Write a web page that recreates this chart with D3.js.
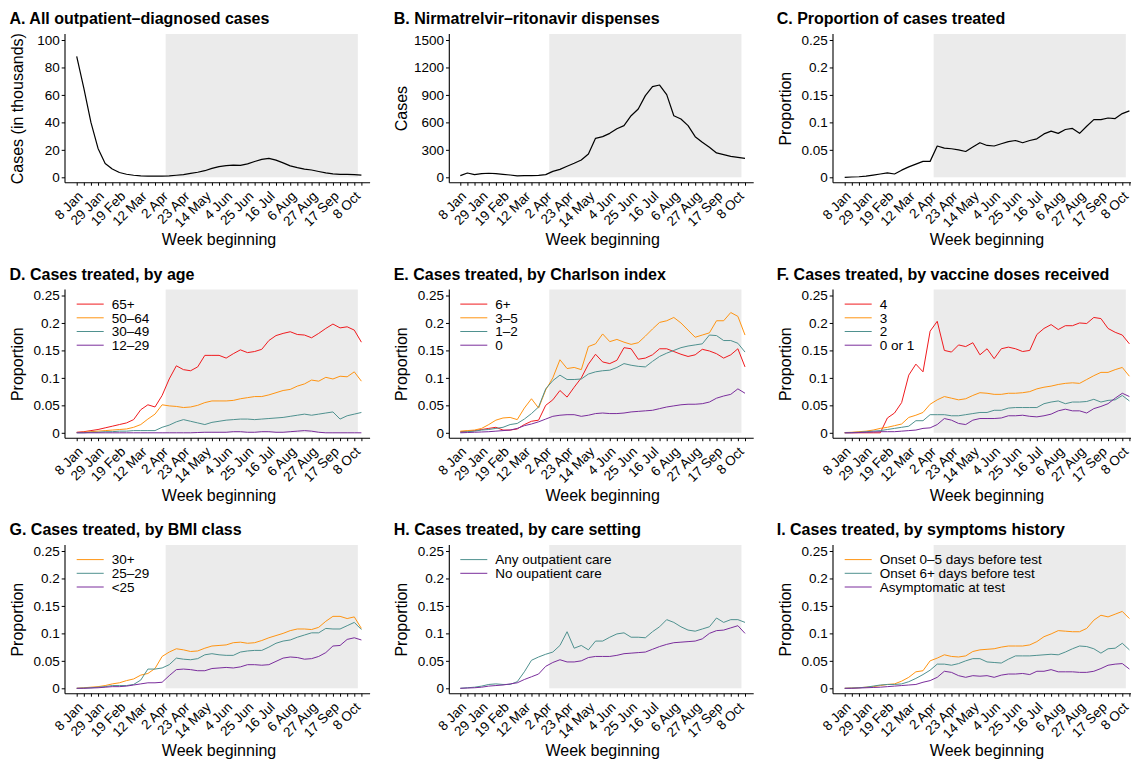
<!DOCTYPE html>
<html>
<head>
<meta charset="utf-8">
<script src="https://d3js.org/d3.v7.min.js"></script>
<style>
  body { margin: 0; background: #fff; }
  svg { font-family: "Liberation Sans", Arial, Helvetica, sans-serif; }
</style>
</head>
<body>
<svg width="1131" height="759"></svg>
<script>
// weekly series, week beginning 8 Jan 2022 .. 15 Oct 2022 (41 weeks)
let tickLabels = ["8 Jan", "29 Jan", "19 Feb", "12 Mar", "2 Apr", "23 Apr", "14 May",
    "4 Jun", "25 Jun", "16 Jul", "6 Aug", "27 Aug", "17 Sep", "8 Oct"];
// shaded period, in week index units
let shadeFrom = 12.5, shadeTo = 39.5;

let casesAll = [88, 65, 40, 21, 10, 6, 3.5, 2.2, 1.5, 1.1, 0.9, 0.8, 0.9, 1.1, 1.5, 2, 2.8, 3.7, 4.8, 6.5,
    7.8, 8.5, 8.8, 8.7, 9.8, 11.5, 13, 13.8, 12.5, 10.5, 8.3, 7, 6, 5.3, 4.2, 3.2, 2.5, 2.2, 2.1, 2, 1.6];
let dispenses = [18, 47, 29, 40, 44, 40, 33, 25, 15, 18, 18, 22, 29, 65, 87, 120, 153, 189, 255, 426,
    444, 480, 531, 564, 673, 746, 892, 990, 1008, 903, 673, 637, 564, 444, 382, 328, 266, 248, 229, 218, 207];
let propTreated = [0, .0005, .001, .002, .004, .006, .008, .006, .013, .019, .024, .029, .029, .057, .053, .052, .05, .047, .055, .063,
    .058, .057, .061, .065, .067, .063, .067, .07, .079, .084, .08, .087, .089, .08, .093, .105, .105, .108, .107, .116, .121];

// D. by age
let age65 = [.001, .002, .004, .006, .009, .012, .015, .018, .024, .042, .051, .047, .068, .098, .122, .115, .113, .12, .141, .141,
    .141, .136, .144, .151, .146, .148, .152, .168, .177, .181, .184, .179, .178, .173, .181, .19, .198, .191, .193, .187, .165];
let age50 = [.0005, .001, .002, .003, .004, .005, .006, .007, .01, .015, .025, .034, .051, .049, .048, .046, .047, .05, .055, .058,
    .058, .058, .059, .062, .064, .066, .066, .069, .073, .077, .079, .085, .089, .096, .094, .101, .098, .103, .102, .111, .094];
let age30 = [0, 0, .001, .001, .002, .002, .003, .003, .004, .004, .004, .004, .01, .014, .02, .024, .021, .018, .015, .019,
    .021, .023, .024, .025, .025, .024, .025, .026, .027, .028, .03, .032, .034, .032, .034, .036, .038, .025, .031, .034, .037];
let age12 = [0, 0, 0, 0, 0, 0, 0, 0, 0, 0, 0, 0, 0, 0, 0, 0, 0, .0005, .001, .001,
    .001, .001, .002, .002, .001, .001, .002, .002, .001, .001, .002, .003, .004, .003, .001, 0, 0, 0, 0, 0, 0];

// E. by Charlson index
let cci6 = [.002, .003, .004, .006, .008, .01, .005, .005, .007, .015, .021, .023, .05, .06, .077, .065, .083, .1, .125, .143,
    .129, .126, .132, .155, .153, .134, .136, .142, .153, .153, .148, .143, .139, .142, .152, .149, .144, .136, .142, .153, .12];
let cci3 = [.003, .004, .005, .008, .015, .023, .027, .028, .024, .045, .062, .045, .078, .1, .133, .117, .119, .115, .157, .162,
    .18, .166, .17, .165, .161, .164, .176, .189, .201, .204, .21, .2, .187, .174, .178, .182, .204, .204, .219, .212, .178];
let cci1 = [.001, .002, .003, .005, .006, .008, .01, .015, .017, .025, .035, .047, .08, .095, .105, .097, .097, .098, .107, .111,
    .113, .114, .119, .126, .123, .121, .12, .13, .139, .145, .15, .155, .158, .16, .162, .178, .177, .168, .168, .163, .147];
let cci0 = [0, .0005, .001, .0015, .002, .003, .004, .005, .008, .013, .016, .02, .025, .03, .032, .033, .033, .03, .032, .035,
    .036, .035, .035, .036, .038, .039, .04, .041, .044, .047, .049, .051, .052, .052, .053, .056, .063, .067, .07, .08, .072];

// F. by vaccine doses
let dose4 = [0, 0, 0, 0, 0, 0, .027, .036, .055, .105, .125, .111, .185, .203, .15, .147, .16, .157, .164, .142,
    .153, .135, .153, .156, .153, .148, .15, .179, .19, .197, .188, .195, .195, .2, .199, .21, .208, .19, .183, .178, .162];
let dose3 = [.0005, .001, .002, .003, .005, .008, .01, .013, .016, .028, .032, .037, .052, .06, .066, .063, .06, .062, .068, .073,
    .072, .07, .07, .072, .072, .073, .075, .08, .083, .085, .088, .09, .091, .09, .097, .104, .11, .11, .115, .119, .103];
let dose2 = [0, .0005, .001, .002, .003, .004, .006, .008, .01, .012, .022, .022, .033, .033, .033, .031, .031, .033, .035, .037,
    .037, .041, .041, .045, .046, .046, .046, .046, .053, .056, .058, .053, .056, .056, .057, .061, .056, .059, .06, .068, .058];
let dose01 = [0, 0, .0005, .001, .0015, .002, .002, .002, .003, .004, .005, .008, .009, .015, .026, .023, .017, .015, .023, .026,
    .026, .026, .027, .031, .031, .032, .03, .029, .031, .034, .04, .043, .04, .04, .036, .044, .048, .053, .063, .072, .066];

// G. by BMI class
let bmi30 = [0, .001, .002, .003, .005, .008, .01, .014, .017, .024, .027, .036, .058, .066, .072, .07, .067, .068, .073, .077,
    .078, .079, .083, .084, .082, .083, .087, .092, .096, .1, .105, .108, .108, .107, .111, .122, .131, .131, .127, .13, .109];
let bmi25 = [0, .0005, .001, .002, .003, .005, .005, .005, .007, .015, .035, .035, .037, .043, .055, .053, .052, .054, .061, .063,
    .061, .06, .06, .066, .068, .069, .069, .075, .082, .086, .088, .093, .097, .101, .101, .109, .108, .108, .114, .12, .107];
let bmiLow = [0, 0, .0005, .001, .002, .003, .003, .004, .006, .008, .01, .01, .011, .023, .034, .035, .034, .032, .032, .036,
    .037, .038, .037, .039, .043, .043, .042, .043, .049, .055, .057, .056, .053, .054, .058, .065, .077, .078, .089, .092, .088];

// H. by care setting
let careAny = [0, .001, .002, .004, .007, .008, .007, .007, .012, .03, .051, .057, .062, .066, .078, .103, .073, .078, .07, .086,
    .086, .093, .099, .101, .093, .093, .092, .103, .112, .125, .12, .112, .106, .104, .108, .112, .128, .12, .125, .125, .12];
let careNone = [0, .0005, .001, .002, .004, .005, .006, .008, .01, .016, .021, .026, .04, .047, .052, .048, .048, .05, .056, .058,
    .058, .058, .06, .063, .064, .065, .066, .071, .076, .08, .083, .084, .085, .086, .09, .1, .105, .106, .11, .114, .1];

// I. by symptoms history
let onset05 = [0, .0005, .001, .002, .003, .005, .007, .008, .013, .02, .03, .032, .05, .055, .061, .058, .057, .059, .067, .07,
    .071, .072, .075, .077, .077, .077, .079, .085, .094, .099, .105, .104, .103, .103, .109, .124, .133, .13, .135, .14, .127];
let onset6 = [0, .0005, .001, .002, .004, .006, .007, .007, .008, .012, .018, .025, .033, .044, .044, .042, .045, .05, .054, .054,
    .048, .047, .046, .053, .059, .059, .059, .06, .061, .062, .061, .066, .072, .077, .076, .072, .064, .072, .073, .082, .07];
let asympt = [0, 0, .0005, .001, .0015, .002, .003, .004, .005, .006, .007, .011, .014, .02, .031, .029, .023, .02, .023, .022,
    .023, .02, .024, .026, .026, .027, .025, .031, .031, .034, .03, .03, .03, .029, .029, .031, .036, .042, .044, .045, .035];

let red = "#f01a1e", orange = "#ff9412", teal = "#4f918f", purple = "#7a2d9c";
let propTicks = [0, 0.05, 0.1, 0.15, 0.2, 0.25];

let panels = [
    { title: "A. All outpatient\u2013diagnosed cases", ylab: "Cases (in thousands)", ymax: 100, yticks: [0, 20, 40, 60, 80, 100],
      series: [{ values: casesAll, color: "#000" }] },
    { title: "B. Nirmatrelvir\u2013ritonavir dispenses", ylab: "Cases", ymax: 1500, yticks: [0, 300, 600, 900, 1200, 1500],
      series: [{ values: dispenses, color: "#000" }] },
    { title: "C. Proportion of cases treated", ylab: "Proportion", ymax: 0.25, yticks: propTicks,
      series: [{ values: propTreated, color: "#000" }] },
    { title: "D. Cases treated, by age", ylab: "Proportion", ymax: 0.25, yticks: propTicks, legend: true,
      series: [{ name: "65+", values: age65, color: red }, { name: "50\u201364", values: age50, color: orange },
               { name: "30\u201349", values: age30, color: teal }, { name: "12\u201329", values: age12, color: purple }] },
    { title: "E. Cases treated, by Charlson index", ylab: "Proportion", ymax: 0.25, yticks: propTicks, legend: true,
      series: [{ name: "6+", values: cci6, color: red }, { name: "3\u20135", values: cci3, color: orange },
               { name: "1\u20132", values: cci1, color: teal }, { name: "0", values: cci0, color: purple }] },
    { title: "F. Cases treated, by vaccine doses received", ylab: "Proportion", ymax: 0.25, yticks: propTicks, legend: true,
      series: [{ name: "4", values: dose4, color: red }, { name: "3", values: dose3, color: orange },
               { name: "2", values: dose2, color: teal }, { name: "0 or 1", values: dose01, color: purple }] },
    { title: "G. Cases treated, by BMI class", ylab: "Proportion", ymax: 0.25, yticks: propTicks, legend: true,
      series: [{ name: "30+", values: bmi30, color: orange }, { name: "25\u201329", values: bmi25, color: teal },
               { name: "<25", values: bmiLow, color: purple }] },
    { title: "H. Cases treated, by care setting", ylab: "Proportion", ymax: 0.25, yticks: propTicks, legend: true,
      series: [{ name: "Any outpatient care", values: careAny, color: teal },
               { name: "No oupatient care", values: careNone, color: purple }] },
    { title: "I. Cases treated, by symptoms history", ylab: "Proportion", ymax: 0.25, yticks: propTicks, legend: true,
      series: [{ name: "Onset 0\u20135 days before test", values: onset05, color: orange },
               { name: "Onset 6+ days before test", values: onset6, color: teal },
               { name: "Asymptomatic at test", values: asympt, color: purple }] }
];

// layout of the 3x3 grid
let cols = [
    { axis: 65, x0: 76.7, title: 9.5, ylab: 17 },
    { axis: 449.3, x0: 460.3, title: 393.7, ylab: 401.5 },
    { axis: 833, x0: 844.7, title: 776.7, ylab: 785.7 }
];
let rowStep = 255.5, plotW = 284.7;

let svg = d3.select("svg");
let nWeeks = casesAll.length;
let fmt = d => String(+d.toFixed(2));

panels.forEach((p, i) => {
    let c = cols[i % 3], off = Math.floor(i / 3) * rowStep;
    let top = 40 + off, zero = 177.3 + off, axisY = zero + 5.4, plotTop = top - 6;

    let x = d3.scaleLinear().domain([0, nWeeks - 1]).range([c.x0, c.x0 + plotW]);
    let y = d3.scaleLinear().domain([0, p.ymax]).range([zero, top]);
    let g = svg.append("g");

    // shaded period
    g.append("rect")
        .attr("x", x(shadeFrom))
        .attr("width", x(shadeTo) - x(shadeFrom))
        .attr("y", plotTop)
        .attr("height", zero - plotTop)
        .attr("fill", "#ebebeb");

    // title
    g.append("text")
        .attr("x", c.title)
        .attr("y", 24 + off)
        .attr("font-size", 16)
        .attr("font-weight", "bold")
        .text(p.title);

    // y axis
    let ya = g.append("g")
        .attr("transform", "translate(" + c.axis + ",0)")
        .call(d3.axisLeft(y).tickValues(p.yticks).tickSize(3.3).tickPadding(2).tickFormat(fmt));
    ya.select(".domain").remove();
    ya.attr("font-family", null).attr("font-size", 13.5);
    ya.selectAll("text").attr("fill", "#000");
    ya.selectAll("line").attr("stroke", "#000");
    g.append("line")
        .attr("x1", c.axis).attr("x2", c.axis)
        .attr("y1", plotTop).attr("y2", axisY)
        .attr("stroke", "#000").attr("stroke-width", 1.1);

    // x axis
    let xa = g.append("g")
        .attr("transform", "translate(0," + axisY + ")")
        .call(d3.axisBottom(x).tickValues(d3.range(nWeeks)).tickSize(3).tickSizeOuter(0)
            .tickFormat(w => w % 3 === 0 ? tickLabels[w / 3] : ""));
    xa.select(".domain").remove();
    xa.attr("font-family", null).attr("font-size", 13.5);
    xa.selectAll("line").attr("stroke", "#000");
    xa.selectAll("text")
        .attr("fill", "#000")
        .attr("x", 0).attr("y", 0).attr("dy", "0.35em")
        .attr("text-anchor", "end")
        .attr("transform", "translate(3,11) rotate(-45)");
    g.append("line")
        .attr("x1", c.axis).attr("x2", x(nWeeks - 1) + 8.7)
        .attr("y1", axisY).attr("y2", axisY)
        .attr("stroke", "#000").attr("stroke-width", 1.1);

    // axis titles
    g.append("text")
        .attr("x", (x(0) + x(nWeeks - 1)) / 2)
        .attr("y", axisY + 62.5)
        .attr("text-anchor", "middle")
        .attr("font-size", 16)
        .text("Week beginning");
    g.append("text")
        .attr("transform", "translate(" + c.ylab + "," + (top + zero) / 2 + ") rotate(-90)")
        .attr("text-anchor", "middle")
        .attr("dy", "0.35em")
        .attr("font-size", 16)
        .text(p.ylab);

    // lines
    let line = d3.line().x((d, k) => x(k)).y(d => y(d));
    g.selectAll("path.series")
        .data(p.series)
        .enter()
        .append("path")
        .attr("class", "series")
        .attr("fill", "none")
        .attr("stroke", d => d.color)
        .attr("stroke-width", p.legend ? 1 : 1.2)
        .attr("stroke-linejoin", "round")
        .attr("d", d => line(d.values));

    // legend
    if (p.legend) {
        let lg = g.selectAll("g.key")
            .data(p.series)
            .enter()
            .append("g")
            .attr("class", "key")
            .attr("transform", (d, k) => "translate(" + x(0) + "," + (top + 8.6 + k * 13.7) + ")");
        lg.append("line")
            .attr("x1", 0).attr("x2", 27)
            .attr("stroke", d => d.color)
            .attr("stroke-width", 1);
        lg.append("text")
            .attr("x", 35)
            .attr("dy", "0.35em")
            .attr("font-size", 13.5)
            .text(d => d.name);
    }
});
</script>
</body>
</html>
